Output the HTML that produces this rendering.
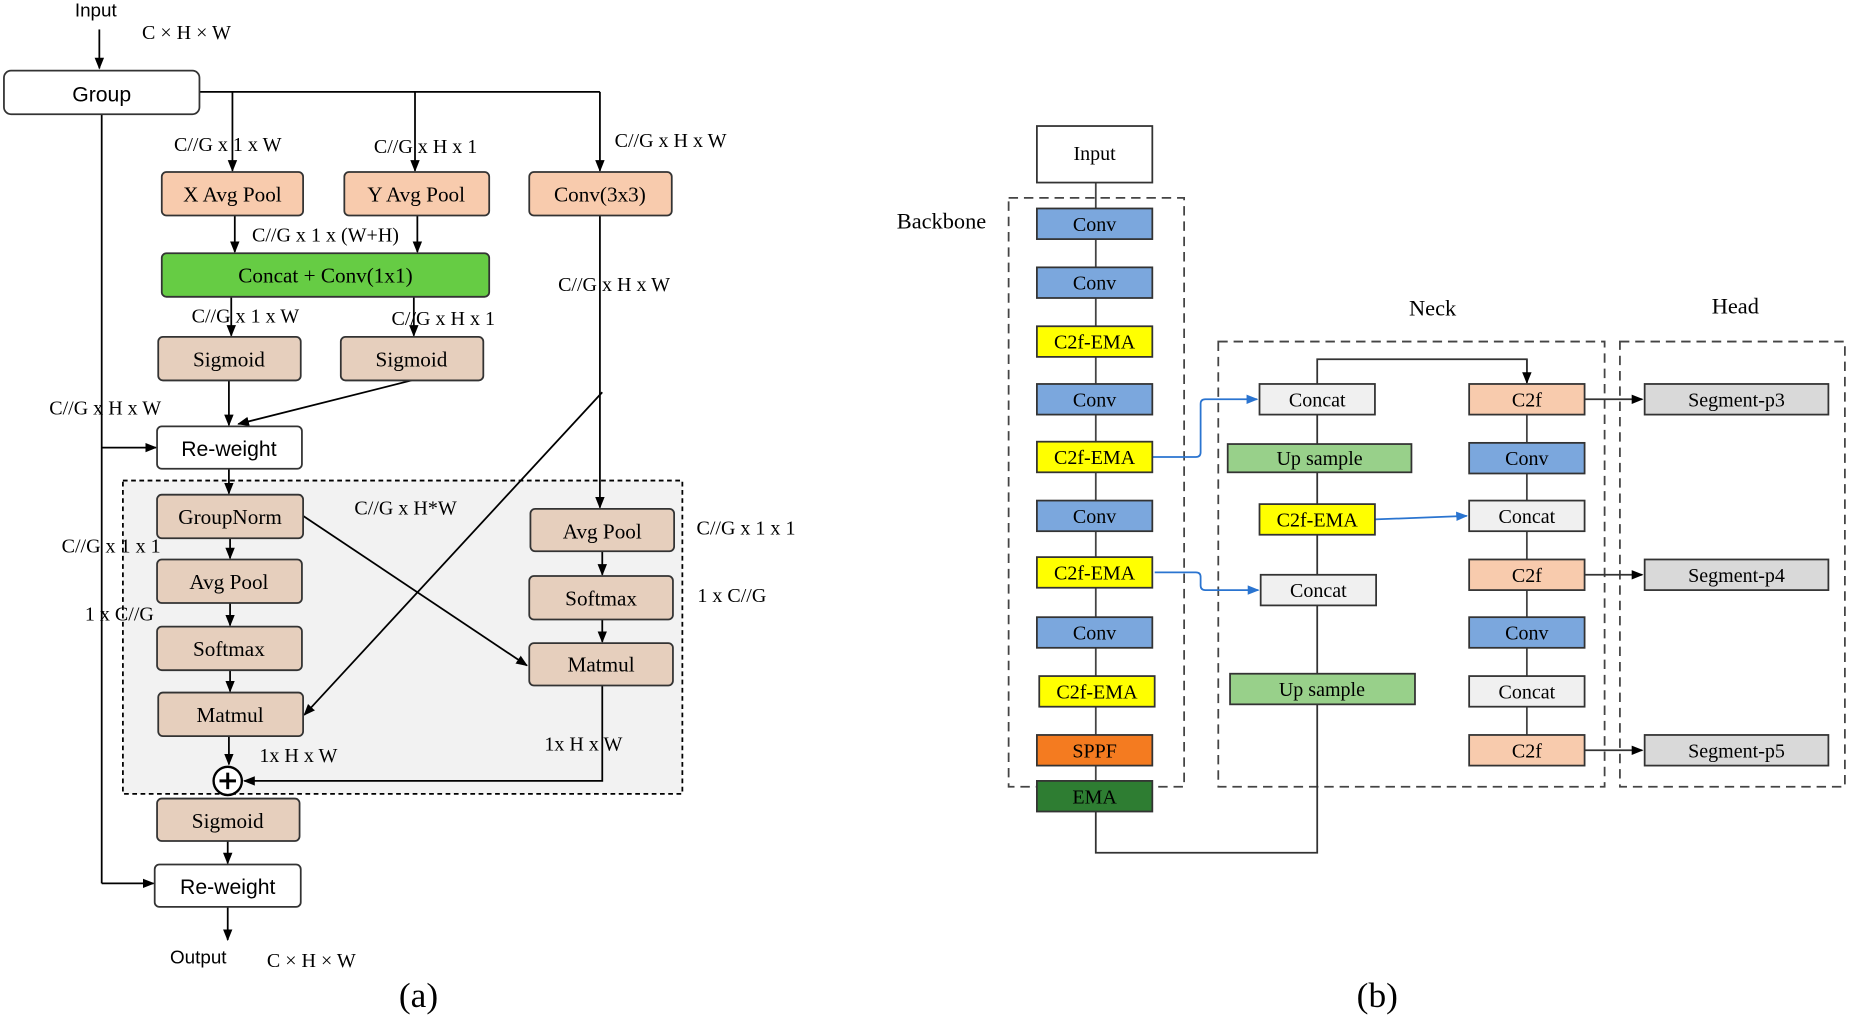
<!DOCTYPE html>
<html><head><meta charset="utf-8"><style>html,body{margin:0;padding:0;background:#fff}svg{display:block}</style></head>
<body>
<svg width="1850" height="1020" viewBox="0 0 1568 866" xmlns="http://www.w3.org/2000/svg" font-family="Liberation Serif, serif" font-size="17">
<defs>
<marker id="a" markerWidth="10" markerHeight="10" refX="9" refY="5" orient="auto" markerUnits="userSpaceOnUse"><path d="M0,1 L10,5 L0,9 z" fill="#000"/></marker>
<marker id="b" markerWidth="10" markerHeight="10" refX="9" refY="5" orient="auto" markerUnits="userSpaceOnUse"><path d="M0,1 L10,5 L0,9 z" fill="#2a74d0"/></marker>
</defs>
<rect width="1568" height="866" fill="#fff"/>
<g stroke="#000" stroke-width="1.5" fill="none">
<rect x="103" y="408" width="475" height="266" fill="#f2f2f2" stroke-dasharray="4,3"/>
<line x1="83" y1="25" x2="83" y2="58" marker-end="url(#a)"/>
<polyline points="168,78 508,78"/>
<line x1="196" y1="78" x2="196" y2="145" marker-end="url(#a)"/>
<line x1="351" y1="78" x2="351" y2="145" marker-end="url(#a)"/>
<line x1="508" y1="78" x2="508" y2="145" marker-end="url(#a)"/>
<line x1="198" y1="183" x2="198" y2="214" marker-end="url(#a)"/>
<line x1="353" y1="183" x2="353" y2="214" marker-end="url(#a)"/>
<line x1="195" y1="252" x2="195" y2="285" marker-end="url(#a)"/>
<line x1="350" y1="252" x2="350" y2="285" marker-end="url(#a)"/>
<line x1="508" y1="183" x2="508" y2="431" marker-end="url(#a)"/>
<line x1="85" y1="97" x2="85" y2="750"/>
<line x1="85" y1="380" x2="131" y2="380" marker-end="url(#a)"/>
<line x1="85" y1="750" x2="129" y2="750" marker-end="url(#a)"/>
<line x1="193" y1="323" x2="193" y2="361" marker-end="url(#a)"/>
<line x1="348" y1="323" x2="201" y2="360" marker-end="url(#a)"/>
<line x1="193" y1="398" x2="193" y2="419" marker-end="url(#a)"/>
<line x1="194" y1="457" x2="194" y2="474" marker-end="url(#a)"/>
<line x1="194" y1="512" x2="194" y2="531" marker-end="url(#a)"/>
<line x1="194" y1="569" x2="194" y2="587" marker-end="url(#a)"/>
<line x1="510" y1="468" x2="510" y2="488" marker-end="url(#a)"/>
<line x1="510" y1="526" x2="510" y2="545" marker-end="url(#a)"/>
<line x1="256" y1="438" x2="446" y2="565" marker-end="url(#a)"/>
<line x1="510" y1="333" x2="257" y2="607" marker-end="url(#a)"/>
<line x1="193" y1="625" x2="193" y2="649" marker-end="url(#a)"/>
<polyline points="510,582 510,663 206,663" marker-end="url(#a)"/>
<line x1="192" y1="714" x2="192" y2="733" marker-end="url(#a)"/>
<line x1="192" y1="770" x2="192" y2="798" marker-end="url(#a)"/>
<circle cx="192" cy="663" r="12" fill="#fff" stroke-width="2"/>
<line x1="185" y1="663" x2="199" y2="663" stroke-width="2.5"/>
<line x1="192" y1="656" x2="192" y2="670" stroke-width="2.5"/>
</g>
<g stroke="#333" stroke-width="1.5">
<rect x="2" y="60" width="166" height="37" rx="6" fill="#fff"/>
<rect x="136" y="146" width="120" height="37" rx="4" fill="#f8cbad"/>
<rect x="291" y="146" width="123" height="37" rx="4" fill="#f8cbad"/>
<rect x="448" y="146" width="121" height="37" rx="4" fill="#f8cbad"/>
<rect x="136" y="215" width="278" height="37" rx="4" fill="#66cc44"/>
<rect x="133" y="286" width="121" height="37" rx="4" fill="#e6cfbd"/>
<rect x="288" y="286" width="121" height="37" rx="4" fill="#e6cfbd"/>
<rect x="132" y="362" width="123" height="36" rx="4" fill="#fff"/>
<rect x="132" y="420" width="124" height="37" rx="4" fill="#e6cfbd"/>
<rect x="132" y="475" width="123" height="37" rx="4" fill="#e6cfbd"/>
<rect x="132" y="532" width="123" height="37" rx="4" fill="#e6cfbd"/>
<rect x="133" y="588" width="123" height="37" rx="4" fill="#e6cfbd"/>
<rect x="449" y="432" width="122" height="36" rx="4" fill="#e6cfbd"/>
<rect x="448" y="489" width="122" height="37" rx="4" fill="#e6cfbd"/>
<rect x="448" y="546" width="122" height="36" rx="4" fill="#e6cfbd"/>
<rect x="132" y="678" width="121" height="36" rx="4" fill="#e6cfbd"/>
<rect x="130" y="734" width="124" height="36" rx="4" fill="#fff"/>
</g>
<g text-anchor="middle" font-size="18">
<text x="80" y="14" font-family="Liberation Sans, sans-serif" font-size="16">Input</text>
<text x="85" y="86" font-family="Liberation Sans, sans-serif">Group</text>
<text x="196" y="171">X Avg Pool</text>
<text x="352" y="171">Y Avg Pool</text>
<text x="508" y="171">Conv(3x3)</text>
<text x="275" y="240">Concat + Conv(1x1)</text>
<text x="193" y="311">Sigmoid</text>
<text x="348" y="311">Sigmoid</text>
<text x="193" y="387" font-family="Liberation Sans, sans-serif">Re-weight</text>
<text x="194" y="445">GroupNorm</text>
<text x="193" y="500">Avg Pool</text>
<text x="193" y="557">Softmax</text>
<text x="194" y="613">Matmul</text>
<text x="510" y="457">Avg Pool</text>
<text x="509" y="514">Softmax</text>
<text x="509" y="570">Matmul</text>
<text x="192" y="703">Sigmoid</text>
<text x="192" y="759" font-family="Liberation Sans, sans-serif">Re-weight</text>
<text x="167" y="818" font-family="Liberation Sans, sans-serif" font-size="16">Output</text>
</g>
<g text-anchor="middle" font-size="17">
<text x="157" y="33">C × H × W</text>
<text x="192" y="128">C//G x 1 x W</text>
<text x="360" y="130">C//G x H x 1</text>
<text x="568" y="125">C//G x H x W</text>
<text x="275" y="205">C//G x 1 x (W+H)</text>
<text x="207" y="274">C//G x 1 x W</text>
<text x="375" y="276">C//G x H x 1</text>
<text x="520" y="247">C//G x H x W</text>
<text x="88" y="352">C//G x H x W</text>
<text x="343" y="437">C//G x H*W</text>
<text x="632" y="454">C//G x 1 x 1</text>
<text x="620" y="511">1 x C//G</text>
<text x="93" y="469">C//G x 1 x 1</text>
<text x="100" y="527">1 x C//G</text>
<text x="252" y="647">1x H x W</text>
<text x="494" y="637">1x H x W</text>
<text x="263" y="821">C × H × W</text>
<text x="354" y="855" font-size="30">(a)</text>
<text x="1168" y="855" font-size="30">(b)</text>
<text x="798" y="194" font-size="19">Backbone</text>
<text x="1215" y="268" font-size="19">Neck</text>
<text x="1472" y="266" font-size="19">Head</text>
</g>
<g stroke="#444" stroke-width="1.5" fill="none">
<rect x="855" y="168" width="149" height="500" stroke-dasharray="8,5"/>
<rect x="1033" y="290" width="328" height="378" stroke-dasharray="8,5"/>
<rect x="1374" y="290" width="191" height="378" stroke-dasharray="8,5"/>
<line x1="929" y1="155" x2="929" y2="663"/>
<polyline points="929,689 929,724 1117,724 1117,305 1295,305 1295,325" stroke="#333"/>
<line x1="1295" y1="352" x2="1295" y2="624"/>
</g>
<line x1="1295" y1="305" x2="1295" y2="325" stroke="#333" stroke-width="1.5" marker-end="url(#a)"/>
<g stroke="#333" stroke-width="1.5">
<line x1="1344" y1="339" x2="1393" y2="339" marker-end="url(#a)"/>
<line x1="1344" y1="488" x2="1393" y2="488" marker-end="url(#a)"/>
<line x1="1344" y1="637" x2="1393" y2="637" marker-end="url(#a)"/>
</g>
<g stroke="#2a74d0" stroke-width="1.5" fill="none">
<path d="M977,388 L1014,388 Q1018,388 1018,384 L1018,343 Q1018,339 1022,339 L1066,339" marker-end="url(#b)"/>
<polyline points="1166,441 1244,438" marker-end="url(#b)"/>
<path d="M979,486 L1014,486 Q1018,486 1018,490 L1018,497 Q1018,501 1022,501 L1067,501" marker-end="url(#b)"/>
</g>
<g stroke="#333" stroke-width="1.5">
<rect x="879" y="107" width="98" height="48" fill="#fff"/>
<rect x="879" y="177" width="98" height="26" fill="#7ba7dd"/>
<rect x="879" y="227" width="98" height="26" fill="#7ba7dd"/>
<rect x="879" y="277" width="98" height="26" fill="#ffff00"/>
<rect x="879" y="326" width="98" height="26" fill="#7ba7dd"/>
<rect x="879" y="375" width="98" height="26" fill="#ffff00"/>
<rect x="879" y="425" width="98" height="26" fill="#7ba7dd"/>
<rect x="879" y="473" width="98" height="26" fill="#ffff00"/>
<rect x="879" y="524" width="98" height="26" fill="#7ba7dd"/>
<rect x="881" y="574" width="98" height="26" fill="#ffff00"/>
<rect x="879" y="624" width="98" height="26" fill="#f47b20"/>
<rect x="879" y="663" width="98" height="26" fill="#2e7d32"/>
<rect x="1068" y="326" width="98" height="26" fill="#f0f0f0"/>
<rect x="1041" y="377" width="156" height="24" fill="#98d08a"/>
<rect x="1068" y="428" width="98" height="26" fill="#ffff00"/>
<rect x="1069" y="488" width="98" height="26" fill="#f0f0f0"/>
<rect x="1043" y="572" width="157" height="26" fill="#98d08a"/>
<rect x="1246" y="326" width="98" height="26" fill="#f8cbad"/>
<rect x="1246" y="376" width="98" height="26" fill="#7ba7dd"/>
<rect x="1246" y="425" width="98" height="26" fill="#f0f0f0"/>
<rect x="1246" y="475" width="98" height="26" fill="#f8cbad"/>
<rect x="1246" y="524" width="98" height="26" fill="#7ba7dd"/>
<rect x="1246" y="574" width="98" height="26" fill="#f0f0f0"/>
<rect x="1246" y="624" width="98" height="26" fill="#f8cbad"/>
<rect x="1395" y="326" width="156" height="26" fill="#d9d9d9"/>
<rect x="1395" y="475" width="156" height="26" fill="#d9d9d9"/>
<rect x="1395" y="624" width="156" height="26" fill="#d9d9d9"/>
</g>
<g text-anchor="middle" font-size="17">
<text x="928" y="136">Input</text>
<text x="928" y="196">Conv</text>
<text x="928" y="246">Conv</text>
<text x="928" y="296">C2f-EMA</text>
<text x="928" y="345">Conv</text>
<text x="928" y="394">C2f-EMA</text>
<text x="928" y="444">Conv</text>
<text x="928" y="492">C2f-EMA</text>
<text x="928" y="543">Conv</text>
<text x="930" y="593">C2f-EMA</text>
<text x="928" y="643">SPPF</text>
<text x="928" y="682">EMA</text>
<text x="1117" y="345">Concat</text>
<text x="1119" y="395">Up sample</text>
<text x="1117" y="447">C2f-EMA</text>
<text x="1118" y="507">Concat</text>
<text x="1121" y="591">Up sample</text>
<text x="1295" y="345">C2f</text>
<text x="1295" y="395">Conv</text>
<text x="1295" y="444">Concat</text>
<text x="1295" y="494">C2f</text>
<text x="1295" y="543">Conv</text>
<text x="1295" y="593">Concat</text>
<text x="1295" y="643">C2f</text>
<text x="1473" y="345">Segment-p3</text>
<text x="1473" y="494">Segment-p4</text>
<text x="1473" y="643">Segment-p5</text>
</g>
</svg>
</body></html>
